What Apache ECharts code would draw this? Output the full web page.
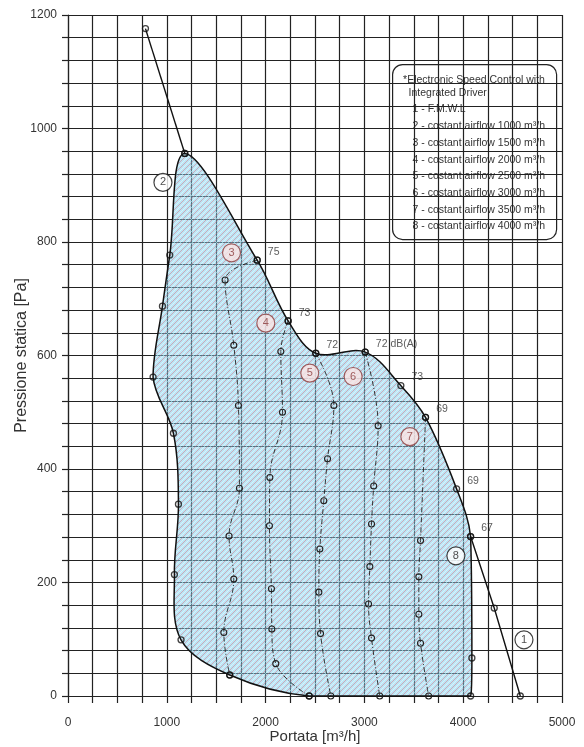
<!DOCTYPE html>
<html><head><meta charset="utf-8">
<script src="https://cdn.jsdelivr.net/npm/echarts@6/dist/echarts.min.js"></script>
<style>html,body{margin:0;padding:0;background:#fff}#c{width:584px;height:747px}</style>
</head><body><div id="c"></div>
<script>
// ---- data (flow m3/h, pressure Pa) ----
const fmwlFlow     = [784, 1182, 1915, 2228, 2508, 3008, 3369, 3619, 3933, 4075, 4314, 4578];
const fmwlPressure = [1176, 956, 768, 661, 604, 606, 547, 491, 365, 281, 155, 0];
const noiseLabels  = ['', '', '75', '73', '72', '72 dB(A)', '73', '69', '69', '67', '', ''];

const c2Flow     = [1182, 1030, 956, 861, 1067, 1118, 1077, 1144, 1637, 2441];
const c2Pressure = [956, 777, 687, 562, 463, 338, 214, 99, 37, 0];

const c3Flow     = [1915, 1590, 1678, 1725, 1735, 1630, 1678, 1577, 1637];
const c3Pressure = [768, 733, 618, 512, 366, 282, 206, 112, 37];

const c4Flow     = [2228, 2154, 2171, 2043, 2039, 2059, 2063, 2103, 2441];
const c4Pressure = [661, 607, 500, 385, 300, 189, 118, 57, 0];

const c5Flow     = [2508, 2691, 2627, 2589, 2549, 2539, 2556, 2660];
const c5Pressure = [604, 512, 418, 344, 259, 183, 110, 0];

const c6Flow     = [3008, 3139, 3094, 3072, 3055, 3042, 3072, 3155];
const c6Pressure = [606, 476, 370, 303, 228, 162, 102, 0];

const c7Flow     = [3619, 3568, 3551, 3551, 3568, 3650];
const c7Pressure = [491, 274, 210, 144, 93, 0];

const c8Flow     = [4075, 4088, 4075];
const c8Pressure = [281, 67, 0];

const tagText     = ['1', '2', '3', '4', '5', '6', '7', '8'];
const tagFlow     = [4615, 961, 1655, 2002, 2447, 2886, 3460, 3926];
const tagPressure = [99, 905, 781, 657, 569, 563, 457, 247];

const legendLines = [
  '*Electronic Speed Control with',
  'Integrated Driver',
  '1 - F.M.W.L',
  '2 - costant airflow 1000 m³/h',
  '3 - costant airflow 1500 m³/h',
  '4 - costant airflow 2000 m³/h',
  '5 - costant airflow 2500 m³/h',
  '6 - costant airflow 3000 m³/h',
  '7 - costant airflow 3500 m³/h',
  '8 - costant airflow 4000 m³/h'
];

// ---- helpers ----
const zip = (xs, ys) => xs.map((x, i) => [x, ys[i]]);
const FONT = '"Liberation Sans", Arial, sans-serif';

function makeHatch() {
  const s = 6;
  const c = document.createElement('canvas');
  c.width = s; c.height = s;
  const g = c.getContext('2d');
  g.fillStyle = 'rgba(120,205,238,0.5)';
  g.fillRect(0, 0, s, s);
  g.lineWidth = 0.8;
  g.strokeStyle = 'rgba(230,90,100,0.55)';
  [[-1, s + 1, s + 1, -1], [-1, 1, 1, -1], [s - 1, s + 1, s + 1, s - 1]].forEach(l => {
    g.beginPath(); g.moveTo(l[0], l[1]); g.lineTo(l[2], l[3]); g.stroke();
  });
  g.strokeStyle = 'rgba(255,255,255,0.6)';
  [[-1, s / 2 + 1, s / 2 + 1, -1], [s / 2 - 1, s + 1, s + 1, s / 2 - 1]].forEach(l => {
    g.beginPath(); g.moveTo(l[0], l[1]); g.lineTo(l[2], l[3]); g.stroke();
  });
  return c;
}
const hatch = makeHatch();

// closed operating region: top of FMWL (peak..67), curve 8 down, bottom, curve 2 back up
const fmwlPts = zip(fmwlFlow, fmwlPressure);
const c2Pts = zip(c2Flow, c2Pressure);
const c8Pts = zip(c8Flow, c8Pressure);
const regionPts = [].concat(
  fmwlPts.slice(1, 10),
  c8Pts.slice(1),
  c2Pts.slice(1).reverse()
);

const gridColor = '#222';
const dashed = [5, 2, 1, 2];
const markerStyle = { color: 'rgba(0,0,0,0)', borderColor: '#111', borderWidth: 1.3 };

function dashedCurve(xs, ys) {
  return {
    type: 'line', data: zip(xs, ys), smooth: 0.4,
    symbol: 'circle', symbolSize: 6, z: 4,
    lineStyle: { color: '#222', width: 0.9, type: dashed },
    itemStyle: { color: 'rgba(0,0,0,0)', borderColor: '#222', borderWidth: 1.1 }
  };
}

const option = {
  animation: false,
  backgroundColor: '#fff',
  textStyle: { fontFamily: FONT },
  grid: { left: 68, right: 22, top: 15, bottom: 51, containLabel: false, outerBoundsMode: 'none' },
  xAxis: {
    type: 'value', min: 0, max: 5000, interval: 1000,
    axisLine: { show: true, onZero: false, lineStyle: { color: gridColor, width: 1.2 } },
    axisTick: { show: true, length: 7, lineStyle: { color: gridColor, width: 1.2 } },
    minorTick: { show: true, splitNumber: 4, length: 7, lineStyle: { color: gridColor, width: 1.2 } },
    splitLine: { show: true, lineStyle: { color: gridColor, width: 1.2 } },
    minorSplitLine: { show: true, lineStyle: { color: gridColor, width: 1.2 } },
    axisLabel: { color: '#333', fontSize: 12, margin: 21, fontFamily: FONT, formatter: v => String(v) },
    name: 'Portata [m³/h]', nameLocation: 'middle', nameGap: 33, nameMoveOverlap: false,
    nameTextStyle: { color: '#333', fontSize: 15, fontFamily: FONT }
  },
  yAxis: {
    type: 'value', min: 0, max: 1200, interval: 200,
    axisLine: { show: true, onZero: false, lineStyle: { color: gridColor, width: 1.2 } },
    axisTick: { show: true, length: 6, lineStyle: { color: gridColor, width: 1.2 } },
    minorTick: { show: true, splitNumber: 5, length: 6, lineStyle: { color: gridColor, width: 1.2 } },
    splitLine: { show: true, lineStyle: { color: gridColor, width: 1.2 } },
    minorSplitLine: { show: true, lineStyle: { color: gridColor, width: 1.2 } },
    axisLabel: { color: '#333', fontSize: 12, margin: 11, fontFamily: FONT, formatter: v => String(v) },
    name: 'Pressione statica [Pa]', nameLocation: 'middle', nameGap: 38, nameMoveOverlap: false,
    nameTextStyle: { color: '#333', fontSize: 16, fontFamily: FONT }
  },
  graphic: [{
    type: 'group', left: 392, top: 64, z: 100,
    children: [
      { type: 'rect', shape: { x: 0, y: 0, width: 164, height: 175, r: 10 },
        style: { fill: '#fff', stroke: '#222', lineWidth: 1.2 } }
    ].concat(legendLines.map((t, i) => ({
      type: 'text',
      x: i === 0 ? 10.5 : (i === 1 ? 16 : 20),
      y: i < 2 ? 15.3 + i * 13 : 45 + (i - 2) * 16.7,
      style: { text: t, font: '10.5px ' + FONT, fill: '#333', verticalAlign: 'middle' }
    })))
  }],
  series: [
    {
      type: 'custom', coordinateSystem: 'cartesian2d', data: [[0, 0]], z: 2,
      renderItem: function (params, api) {
        const pts = regionPts.map(p => api.coord(p));
        let minX = Infinity, minY = Infinity, maxX = -Infinity, maxY = -Infinity;
        pts.forEach(p => { minX = Math.min(minX, p[0]); maxX = Math.max(maxX, p[0]); minY = Math.min(minY, p[1]); maxY = Math.max(maxY, p[1]); });
        return {
          type: 'polygon',
          shape: { points: pts, smooth: 0.35, smoothConstraint: [[minX, minY], [maxX, maxY]] },
          style: { fill: { image: hatch, repeat: 'repeat' }, stroke: '#111', lineWidth: 1.5 }
        };
      }
    },
    {
      type: 'line', data: fmwlPts.slice(0, 2), symbol: 'none', z: 3,
      lineStyle: { color: '#111', width: 1.4 }
    },
    {
      type: 'line', data: fmwlPts.slice(9), symbol: 'none', z: 3,
      lineStyle: { color: '#111', width: 1.4 }
    },
    dashedCurve(c3Flow, c3Pressure),
    dashedCurve(c4Flow, c4Pressure),
    dashedCurve(c5Flow, c5Pressure),
    dashedCurve(c6Flow, c6Pressure),
    dashedCurve(c7Flow, c7Pressure),
    {
      type: 'scatter', z: 5, symbol: 'circle', symbolSize: 6,
      data: fmwlPts.map((p, i) => ({ value: p, label: { formatter: noiseLabels[i] } })),
      itemStyle: markerStyle,
      label: { show: true, position: 'right', distance: 7, offset: [0, -8],
        color: '#333', fontSize: 10.5, fontFamily: FONT }
    },
    {
      type: 'scatter', z: 5, symbol: 'circle', symbolSize: 6,
      data: c2Pts.concat(c8Pts), itemStyle: markerStyle
    },
    {
      type: 'scatter', z: 6, symbol: 'circle', symbolSize: 18,
      data: zip(tagFlow, tagPressure).map((p, i) => {
        const plain = (i === 0 || i === 1 || i === 7);
        return {
          value: p,
          itemStyle: plain
            ? { color: '#fff', borderColor: '#111', borderWidth: 1.2 }
            : { color: '#fbe3e3', borderColor: '#8b3a3a', borderWidth: 1.2 },
          label: { formatter: tagText[i], color: plain ? '#222' : '#8b3a3a' }
        };
      }),
      label: { show: true, position: 'inside', fontSize: 11, fontFamily: FONT }
    }
  ]
};

const chart = echarts.init(document.getElementById('c'));
chart.setOption(option);
</script>
</body></html>
